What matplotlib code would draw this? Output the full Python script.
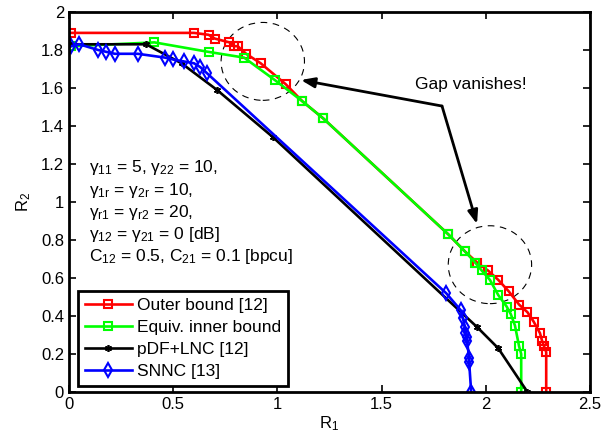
import matplotlib
matplotlib.use('Agg')
import matplotlib.pyplot as plt
from matplotlib.patches import Ellipse
from matplotlib.ticker import FormatStrFormatter

plt.rcParams['font.family'] = ['Liberation Sans', 'DejaVu Sans']
plt.rcParams['mathtext.fontset'] = 'custom'
plt.rcParams['mathtext.rm'] = 'Liberation Sans'
plt.rcParams['mathtext.it'] = 'Liberation Sans'
plt.rcParams['mathtext.sf'] = 'Liberation Sans'

# Outer bound [12]
outer_r1 = [0.01, 0.60, 0.67, 0.70, 0.77, 0.79, 0.81, 0.85, 0.92, 1.04, 1.12, 1.22,
            1.82, 1.90, 1.96, 2.01, 2.06, 2.11, 2.16, 2.20, 2.23, 2.26, 2.27, 2.28,
            2.29, 2.29]
outer_r2 = [1.89, 1.89, 1.88, 1.86, 1.84, 1.82, 1.82, 1.78, 1.73, 1.62, 1.53, 1.44,
            0.83, 0.74, 0.68, 0.64, 0.59, 0.53, 0.46, 0.42, 0.37, 0.31, 0.27, 0.24,
            0.21, 0.0]

# Equiv. inner bound
inner_r1 = [0.01, 0.41, 0.67, 0.84, 0.99, 1.12, 1.22, 1.82, 1.90, 1.95, 1.98, 2.02,
            2.06, 2.10, 2.12, 2.14, 2.16, 2.17, 2.17]
inner_r2 = [1.82, 1.84, 1.79, 1.76, 1.64, 1.53, 1.44, 0.83, 0.74, 0.68, 0.64, 0.59,
            0.51, 0.45, 0.41, 0.35, 0.24, 0.20, 0.0]

# pDF+LNC [12]
pdf_r1 = [0.0, 0.37, 0.54, 0.71, 0.98, 1.96, 2.06, 2.20]
pdf_r2 = [1.83, 1.83, 1.73, 1.59, 1.34, 0.34, 0.23, 0.0]

# SNNC [13]
snnc_r1 = [0.01, 0.05, 0.14, 0.18, 0.22, 0.33, 0.46, 0.50, 0.55, 0.60, 0.63, 0.66,
           1.81, 1.88, 1.89, 1.90, 1.90, 1.91, 1.91, 1.92, 1.92, 1.93]
snnc_r2 = [1.82, 1.83, 1.80, 1.79, 1.78, 1.78, 1.76, 1.75, 1.74, 1.73, 1.71, 1.68,
           0.52, 0.43, 0.39, 0.34, 0.31, 0.29, 0.27, 0.18, 0.16, 0.0]

params = [r'$\gamma_{11}$ = 5, $\gamma_{22}$ = 10,',
          r'$\gamma_{1r}$ = $\gamma_{2r}$ = 10,',
          r'$\gamma_{r1}$ = $\gamma_{r2}$ = 20,',
          r'$\gamma_{12}$ = $\gamma_{21}$ = 0 [dB]',
          r'C$_{12}$ = 0.5, C$_{21}$ = 0.1 [bpcu]']

fig = plt.figure(figsize=(6.12, 4.44), dpi=100)
ax = fig.add_axes([0.1127, 0.1171, 0.8513, 0.8559])

ax.plot(outer_r1, outer_r2, '-s', color='r', lw=1.9, ms=6, mfc='none', mew=1.5,
        label='Outer bound [12]')
ax.plot(inner_r1, inner_r2, '-s', color=(0, 1, 0), lw=1.9, ms=6, mfc='none', mew=1.5,
        label='Equiv. inner bound')
ax.plot(pdf_r1, pdf_r2, '-', marker=(6, 2, 0), color='k', lw=1.9, ms=5, mew=1.2,
        label='pDF+LNC [12]')
ax.plot(snnc_r1, snnc_r2, '-d', color='b', lw=1.9, ms=7, mfc='none', mew=1.5,
        label='SNNC [13]')

# dashed circles + arrows
for c in [(0.93, 1.74), (2.02, 0.67)]:
    ax.add_patch(Ellipse(c, 0.4, 0.41, fill=False, ls=(0, (6, 5)), lw=0.8, color='k'))
ax.text(1.93, 1.62, 'Gap vanishes!', fontsize=12.5, ha='center', va='center')
for tip in [(1.113, 1.642), (1.958, 0.884)]:
    ax.annotate('', xy=tip, xytext=(1.79, 1.505),
                arrowprops=dict(arrowstyle='-|>,head_length=0.8,head_width=0.3',
                                lw=2, color='k', shrinkA=0, shrinkB=0))

for i, s in enumerate(params):
    ax.text(0.096, (392 - (172.5 + 22.2 * i)) / 190, s, fontsize=12.5, va='baseline')

ax.set_xlim(0, 2.5)
ax.set_ylim(0, 2)
ax.set_xticks([0, 0.5, 1, 1.5, 2, 2.5])
ax.set_yticks([0, 0.2, 0.4, 0.6, 0.8, 1, 1.2, 1.4, 1.6, 1.8, 2])
ax.xaxis.set_major_formatter(FormatStrFormatter('%g'))
ax.yaxis.set_major_formatter(FormatStrFormatter('%g'))
ax.tick_params(direction='in', length=5, width=1.2, labelsize=12, top=True, right=True)
for sp in ax.spines.values():
    sp.set_linewidth(2)
ax.set_xlabel(r'R$_1$', fontsize=12, labelpad=2)
ax.set_ylabel(r'R$_2$', fontsize=12, labelpad=6)

leg = ax.legend(loc='lower left', bbox_to_anchor=(0.017, 0.016), borderaxespad=0,
                fontsize=12.5, fancybox=False, framealpha=1, edgecolor='k',
                handlelength=2.7, handletextpad=0.3, labelspacing=0.4,
                borderpad=0.4)
leg.get_frame().set_linewidth(2)

fig.savefig('out.png', dpi=100)
